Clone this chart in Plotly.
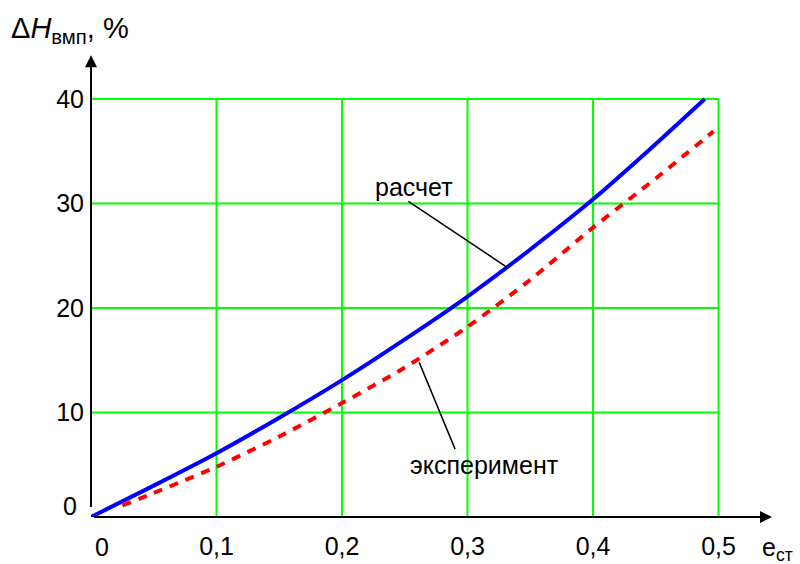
import plotly.graph_objects as go

# data
x_calc = [0.0, 0.05, 0.1, 0.15, 0.2, 0.25, 0.3, 0.35, 0.4, 0.45, 0.489]
y_calc = [0.0, 3.0, 6.1, 9.5, 13.1, 17.0, 21.1, 25.6, 30.4, 35.7, 40.0]
x_exp = [0.025, 0.05, 0.1, 0.15, 0.2, 0.25, 0.3, 0.35, 0.4, 0.45, 0.496]
y_exp = [1.1, 2.3, 4.8, 7.7, 10.9, 14.3, 18.2, 22.7, 27.7, 32.4, 36.9]
x_ticks = [0.1, 0.2, 0.3, 0.4, 0.5]
x_labels = ["0,1", "0,2", "0,3", "0,4", "0,5"]
y_ticks = [10, 20, 30, 40]
y_labels = ["10", "20", "30", "40"]

FONT = "Liberation Sans, Arial, sans-serif"
FS = 25
L, R, T, B = 91, 25, 52, 47
W, H = 800, 564
PW, PH = W - L - R, H - T - B


def px(xp):
    return (xp - L) / PW


def py(yp):
    return (H - B - yp) / PH


fig = go.Figure()

grid = []
for xv in x_ticks:
    grid.append(dict(type="line", xref="x", yref="y", x0=xv, x1=xv, y0=0, y1=40,
                     line=dict(color="#00ff00", width=2), layer="below"))
for yv in y_ticks:
    grid.append(dict(type="line", xref="x", yref="y", x0=0, x1=0.5, y0=yv, y1=yv,
                     line=dict(color="#00ff00", width=2), layer="below"))

fig.add_trace(go.Scatter(x=x_calc, y=y_calc, mode="lines",
                         line=dict(color="#0000ff", width=4, shape="spline", smoothing=0.6), showlegend=False))
fig.add_trace(go.Scatter(x=x_exp, y=y_exp, mode="lines",
                         line=dict(color="#ff0000", width=4, dash="9px,8px", shape="spline", smoothing=0.6),
                         showlegend=False))

# axes arrows
fig.add_annotation(x=0.5426, y=0, ax=0, ay=0, xref="x", yref="y", axref="x", ayref="y",
                   showarrow=True, arrowhead=2, arrowsize=1.2, arrowwidth=2, arrowcolor="black", text=" ")
fig.add_annotation(x=0, y=44.2, ax=0, ay=0, xref="x", yref="y", axref="x", ayref="y",
                   showarrow=True, arrowhead=2, arrowsize=1.2, arrowwidth=2, arrowcolor="black", text=" ")


def label(xp, yp, text, size=FS, xanchor="center"):
    fig.add_annotation(x=px(xp), y=py(yp), xref="paper", yref="paper", text=text, showarrow=False,
                       xanchor=xanchor, yanchor="middle", font=dict(size=size, color="black", family=FONT))


# zero labels
label(102, 547, "0")
label(70, 506, "0")

# curve labels with leader lines
fig.add_annotation(x=0.3315, y=23.9, ax=0.2505, ay=30.4, xref="x", yref="y", axref="x", ayref="y",
                   showarrow=True, arrowhead=0, arrowwidth=1.5, arrowcolor="black", text=" ")
label(414, 187, "расчет")
fig.add_annotation(x=0.2615, y=14.8, ax=0.2925, ay=5.8, xref="x", yref="y", axref="x", ayref="y",
                   showarrow=True, arrowhead=0, arrowwidth=1.5, arrowcolor="black", text=" ")
label(484, 465, "эксперимент")

# axis titles
label(9, 30, "Δ<i>H</i><sub>вмп</sub>, %", size=29, xanchor="left")
label(795, 549, "e<sub>ст</sub>", xanchor="right")

fig.update_layout(
    width=W, height=H,
    margin=dict(l=L, r=R, t=T, b=B),
    plot_bgcolor="white", paper_bgcolor="white",
    shapes=grid,
    xaxis=dict(range=[0, 0.545], showgrid=False, zeroline=False, showline=False, automargin=False,
               tickvals=x_ticks, ticktext=x_labels, ticks="", ticklabelstandoff=12,
               tickfont=dict(size=FS, color="black", family=FONT)),
    yaxis=dict(range=[0, 44.5], showgrid=False, zeroline=False, showline=False, automargin=False,
               tickvals=y_ticks, ticktext=y_labels, ticks="", ticklabelstandoff=6,
               tickfont=dict(size=FS, color="black", family=FONT)),
)

fig.write_html("out.html", config={"displayModeBar": False},
               post_script="document.body.style.margin='0';document.body.style.overflow='hidden';")
